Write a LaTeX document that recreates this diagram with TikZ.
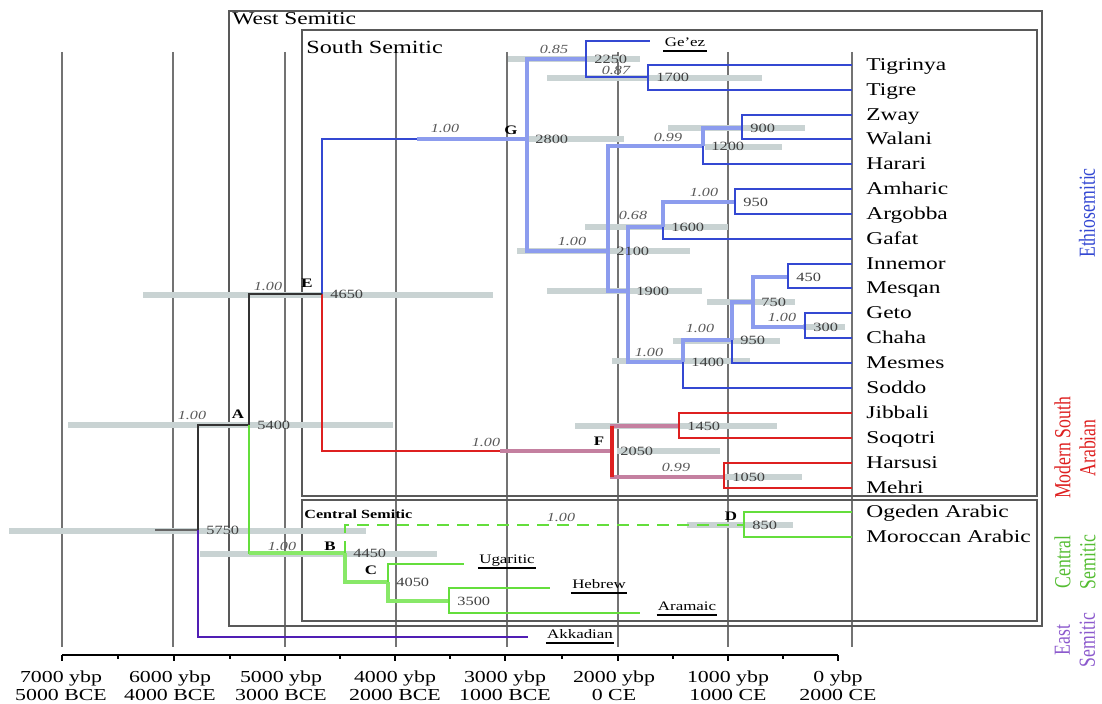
\documentclass[tikz,border=0pt]{standalone}
\usepackage{amsmath,amsfonts,graphicx}
\usepackage{xcolor}
\usepackage{fontspec}
\setmainfont{Liberation Serif}[FakeStretch=1.3]
\newfontfamily\condfont{Liberation Serif}[FakeStretch=0.77]
\usepackage{tikz}

\definecolor{ethblue}{RGB}{52,72,210}
\definecolor{ethlight}{RGB}{140,156,238}
\definecolor{msared}{RGB}{222,32,32}
\definecolor{msalight}{RGB}{196,128,160}
\definecolor{csgreen}{RGB}{100,222,60}
\definecolor{cslight}{RGB}{136,232,104}
\definecolor{espurple}{RGB}{80,30,180}
\definecolor{eslabel}{RGB}{140,90,205}
\definecolor{hpdgray}{RGB}{201,211,211}

\tikzset{
  gridline/.style={line width=0.7pt,black!55},
  boxline/.style={line width=0.8pt,black!65},
  boxtitle/.style={anchor=west,inner sep=0pt,font=\fontsize{9}{9}\selectfont},
  hpd/.style={line width=3pt,hpdgray},
  eth/.style={line width=1.3pt,ethblue},
  ethin/.style={line width=2.2pt,ethlight},
  msa/.style={line width=1.3pt,msared},
  msain/.style={line width=2.2pt,msalight},
  cs/.style={line width=1.2pt,csgreen},
  csin/.style={line width=2pt,cslight},
  stem/.style={line width=1.1pt,black!80},
  es/.style={line width=1.2pt,espurple},
  leaf/.style={anchor=west,inner xsep=7pt,inner ysep=0pt,text height=6pt,text depth=0pt,font=\fontsize{9}{9}\selectfont},
  ext/.style={inner sep=0.5pt,text height=5pt,text depth=1.5pt,font=\fontsize{6.5}{6.5}\selectfont},
  uline/.style={line width=1.1pt},
  age/.style={anchor=west,inner sep=1pt,xshift=3pt,text height=4.5pt,text depth=0pt,black!75,font=\fontsize{6.3}{6.3}\selectfont},
  pp/.style={inner sep=0pt,black!65,font=\fontsize{6.2}{6.2}\selectfont\itshape},
  clade/.style={inner sep=0pt,font=\fontsize{6.5}{6.5}\selectfont\bfseries},
  axislab/.style={align=center,inner sep=0pt,font=\fontsize{8.4}{9}\selectfont},
  cladelabel/.style={rotate=90,align=center,inner sep=0pt,font=\fontsize{11.5}{12.5}\condfont}
}

\begin{document}
\begin{tikzpicture}[x=0.5pt,y=-0.5pt]
    \useasboundingbox (0,0) rectangle (1102,704);

    % time grid
    \foreach \x in {62,173,285,396,507,618,728,852}
        \draw[gridline] (\x,52) -- (\x,647);

    % clade boxes
    \draw[boxline] (229,11) rectangle (1042,626);
    \draw[boxline] (302,30) rectangle (1037,496);
    \draw[boxline] (302,500) rectangle (1037,621);
    \node[boxtitle] (wsem) at (232,19) {West Semitic};
    \node[boxtitle,font=\fontsize{9.3}{9.3}\selectfont] (ssem) at (306,47) {South Semitic};
    \node[boxtitle,font=\fontsize{6.2}{6.2}\selectfont\bfseries] (csem) at (304,514) {Central Semitic};

    % 95% intervals
    \draw[hpd] (508,59) -- (640,59);
    \draw[hpd] (547,78) -- (762,78);
    \draw[hpd] (668,128) -- (805,128);
    \draw[hpd] (705,147) -- (782,147);
    \draw[hpd] (527,139) -- (624,139);
    \draw[hpd] (585,227) -- (728,227);
    \draw[hpd] (517,251) -- (690,251);
    \draw[hpd] (547,291) -- (702,291);
    \draw[hpd] (707,302) -- (795,302);
    \draw[hpd] (803,327) -- (845,327);
    \draw[hpd] (673,341) -- (780,341);
    \draw[hpd] (612,361) -- (750,361);
    \draw[hpd] (143,295) -- (493,295);
    \draw[hpd] (68,425) -- (393,425);
    \draw[hpd] (9,531) -- (366,531);
    \draw[hpd] (200,554) -- (437,554);
    \draw[hpd] (575,426) -- (777,426);
    \draw[hpd] (617,451) -- (720,451);
    \draw[hpd] (723,477) -- (802,477);
    \draw[hpd] (687,525) -- (793,525);

    % languages
    \node[leaf] (tigrinya) at (852,65) {Tigrinya};
    \node[leaf] (tigre) at (852,90) {Tigre};
    \node[leaf] (zway) at (852,115) {Zway};
    \node[leaf] (walani) at (852,139) {Walani};
    \node[leaf] (harari) at (852,164) {Harari};
    \node[leaf] (amharic) at (852,189) {Amharic};
    \node[leaf] (argobba) at (852,214) {Argobba};
    \node[leaf] (gafat) at (852,239) {Gafat};
    \node[leaf] (innemor) at (852,264) {Innemor};
    \node[leaf] (mesqan) at (852,288) {Mesqan};
    \node[leaf] (geto) at (852,313) {Geto};
    \node[leaf] (chaha) at (852,338) {Chaha};
    \node[leaf] (mesmes) at (852,363) {Mesmes};
    \node[leaf] (soddo) at (852,388) {Soddo};
    \node[leaf] (jibbali) at (852,413) {Jibbali};
    \node[leaf] (soqotri) at (852,438) {Soqotri};
    \node[leaf] (harsusi) at (852,463) {Harsusi};
    \node[leaf] (mehri) at (852,488) {Mehri};
    \node[leaf] (ogeden) at (852,512) {Ogeden Arabic};
    \node[leaf] (moroccan) at (852,537) {Moroccan Arabic};

    % extinct languages
    \node[ext] (geez) at (685,43) {Ge'ez};
    \node[ext] (ugaritic) at (507,560) {Ugaritic};
    \node[ext] (hebrew) at (599,585) {Hebrew};
    \node[ext] (aramaic) at (687,607) {Aramaic};
    \node[ext] (akkadian) at (580,635) {Akkadian};
    \draw[uline] (geez.south west) -- (geez.south east);
    \draw[uline] (ugaritic.south west) -- (ugaritic.south east);
    \draw[uline] (hebrew.south west) -- (hebrew.south east);
    \draw[uline] (aramaic.south west) -- (aramaic.south east);
    \draw[uline] (akkadian.south west) -- (akkadian.south east);
    \coordinate (geezend) at (650,41);
    \coordinate (ugaritend) at (464,564);
    \coordinate (hebrewend) at (550,588);
    \coordinate (aramaicend) at (640,613);
    \coordinate (akkadianend) at (528,637);

    % dated splits
    \coordinate (rootstub) at (155,530);
    \coordinate (root) at (198,530);
    \coordinate (A) at (249,425);
    \coordinate (E) at (322,294);
    \coordinate (G) at (527,139);
    \coordinate (n2250) at (586,59);
    \coordinate (n1700) at (648,77);
    \coordinate (n2100) at (608,251);
    \coordinate (n1200) at (703,146);
    \coordinate (n900) at (742,128);
    \coordinate (n1900) at (628,291);
    \coordinate (n1600) at (663,227);
    \coordinate (n950a) at (735,202);
    \coordinate (n1400) at (683,362);
    \coordinate (n950b) at (732,340);
    \coordinate (n750) at (753,302);
    \coordinate (n450) at (788,277);
    \coordinate (n300) at (805,327);
    \coordinate (F) at (612,451);
    \coordinate (n1450) at (679,426);
    \coordinate (n1050) at (724,477);
    \coordinate (B) at (345,553);
    \coordinate (C) at (388,582);
    \coordinate (n3500) at (449,601);
    \coordinate (D) at (744,525);
    \coordinate (gfade) at (417,139);
    \coordinate (ffade) at (500,451);

    % Ethiosemitic
    \draw[eth] (E) |- (G);
    \draw[ethin] (gfade) -- (G);
    \draw[ethin] (G) |- (n2250);
    \draw[ethin] (G) |- (n2100);
    \draw[eth] (n2250) |- (geezend);
    \draw[eth] (n2250) |- (n1700);
    \draw[eth] (n1700) |- (tigrinya.west);
    \draw[eth] (n1700) |- (tigre.west);
    \draw[ethin] (n2100) |- (n1200);
    \draw[ethin] (n2100) |- (n1900);
    \draw[ethin] (n1200) |- (n900);
    \draw[eth] (n1200) |- (harari.west);
    \draw[eth] (n900) |- (zway.west);
    \draw[eth] (n900) |- (walani.west);
    \draw[ethin] (n1900) |- (n1600);
    \draw[ethin] (n1900) |- (n1400);
    \draw[ethin] (n1600) |- (n950a);
    \draw[eth] (n1600) |- (gafat.west);
    \draw[eth] (n950a) |- (amharic.west);
    \draw[eth] (n950a) |- (argobba.west);
    \draw[ethin] (n1400) |- (n950b);
    \draw[eth] (n1400) |- (soddo.west);
    \draw[ethin] (n950b) |- (n750);
    \draw[eth] (n950b) |- (mesmes.west);
    \draw[ethin] (n750) |- (n450);
    \draw[ethin] (n750) |- (n300);
    \draw[eth] (n450) |- (innemor.west);
    \draw[eth] (n450) |- (mesqan.west);
    \draw[eth] (n300) |- (geto.west);
    \draw[eth] (n300) |- (chaha.west);

    % Modern South Arabian
    \draw[msa] (E) |- (F);
    \draw[msain] (ffade) -- (F);
    \draw[msain] (F) |- (n1450);
    \draw[msain] (F) |- (n1050);
    \draw[msa,line width=2pt] (F |- n1450) -- (F |- n1050);
    \draw[msa] (n1450) |- (jibbali.west);
    \draw[msa] (n1450) |- (soqotri.west);
    \draw[msa] (n1050) |- (harsusi.west);
    \draw[msa] (n1050) |- (mehri.west);

    % root, East Semitic
    \draw[stem,black!60] (rootstub) -- (root);
    \draw[stem] (root) |- (A);
    \draw[stem] (A) |- (E);
    \draw[es] (root) |- (akkadianend);

    % Central Semitic
    \draw[cs] (A) |- (B);
    \draw[csin] (A |- B) -- (B);
    \draw[cs,dash pattern=on 6pt off 4pt] (B) |- (D);
    \draw[csin] (B) |- (C);
    \draw[cs] (C) |- (ugaritend);
    \draw[csin] (C) |- (n3500);
    \draw[cs] (n3500) |- (hebrewend);
    \draw[cs] (n3500) |- (aramaicend);
    \draw[cs] (D) |- (ogeden.west);
    \draw[cs] (D) |- (moroccan.west);

    % ages
    \node[age] (a5750) at (root) {5750};
    \node[age] (a5400) at (A) {5400};
    \node[age] (a4650) at (E) {4650};
    \node[age] (a2800) at (G) {2800};
    \node[age] (a2250) at (n2250) {2250};
    \node[age] (a1700) at (n1700) {1700};
    \node[age] (a2100) at (n2100) {2100};
    \node[age] (a1200) at (n1200) {1200};
    \node[age] (a900) at (n900) {900};
    \node[age] (a1900) at (n1900) {1900};
    \node[age] (a1600) at (n1600) {1600};
    \node[age] (a950a) at (n950a) {950};
    \node[age] (a1400) at (n1400) {1400};
    \node[age] (a950b) at (n950b) {950};
    \node[age] (a750) at (n750) {750};
    \node[age] (a450) at (n450) {450};
    \node[age] (a300) at (n300) {300};
    \node[age] (a2050) at (F) {2050};
    \node[age] (a1450) at (n1450) {1450};
    \node[age] (a1050) at (n1050) {1050};
    \node[age] (a4450) at (B) {4450};
    \node[age] (a4050) at (C) {4050};
    \node[age] (a3500) at (n3500) {3500};
    \node[age] (a850) at (D) {850};

    % posteriors
    \node[pp] (pA) at (192,415) {1.00};
    \node[pp] (pE) at (268,286) {1.00};
    \node[pp] (pG) at (445,128) {1.00};
    \node[pp] (p2250) at (554,49) {0.85};
    \node[pp] (p1700) at (616,70) {0.87};
    \node[pp] (p1200) at (668,137) {0.99};
    \node[pp] (p2100) at (572,241) {1.00};
    \node[pp] (p1600) at (633,215) {0.68};
    \node[pp] (p950a) at (704,192) {1.00};
    \node[pp] (p1400) at (649,352) {1.00};
    \node[pp] (p950b) at (700,328) {1.00};
    \node[pp] (p300) at (782,317) {1.00};
    \node[pp] (pF) at (486,442) {1.00};
    \node[pp] (p1050) at (676,467) {0.99};
    \node[pp] (pB) at (282,546) {1.00};
    \node[pp] (pD) at (561,517) {1.00};

    % clade letters
    \node[clade] (lA) at (238,414) {A};
    \node[clade] (lB) at (330,546) {B};
    \node[clade] (lC) at (371,570) {C};
    \node[clade] (lD) at (731,516) {D};
    \node[clade] (lE) at (307,283) {E};
    \node[clade] (lF) at (599,441) {F};
    \node[clade] (lG) at (511,130) {G};

    % time axis
    \draw[line width=1pt] (62,655) -- (838,655);
    \foreach \x in {62,174,285,395,505,618,728,838}
        \draw[line width=1pt] (\x,655) -- (\x,661);
    \foreach \x in {118,230,340,450,562,673,783}
        \draw[line width=0.8pt] (\x,655) -- (\x,659);
    \node[axislab] (t7000) at (61,686) {7000 ybp\\5000 BCE};
    \node[axislab] (t6000) at (170,686) {6000 ybp\\4000 BCE};
    \node[axislab] (t5000) at (281,686) {5000 ybp\\3000 BCE};
    \node[axislab] (t4000) at (395,686) {4000 ybp\\2000 BCE};
    \node[axislab] (t3000) at (505,686) {3000 ybp\\1000 BCE};
    \node[axislab] (t2000) at (614,686) {2000 ybp\\0 CE};
    \node[axislab] (t1000) at (728,686) {1000 ybp\\1000 CE};
    \node[axislab] (t0) at (838,686) {0 ybp\\2000 CE};

    % branch names
    \node[cladelabel,ethblue] (ethio) at (1087,213) {Ethiosemitic};
    \node[cladelabel,msared] (msalab) at (1075,448) {Modern South\\Arabian};
    \node[cladelabel,csgreen!85!black] (cslab) at (1075,562) {Central\\Semitic};
    \node[cladelabel,eslabel] (eslab) at (1075,640) {East\\Semitic};
\end{tikzpicture}
\end{document}
